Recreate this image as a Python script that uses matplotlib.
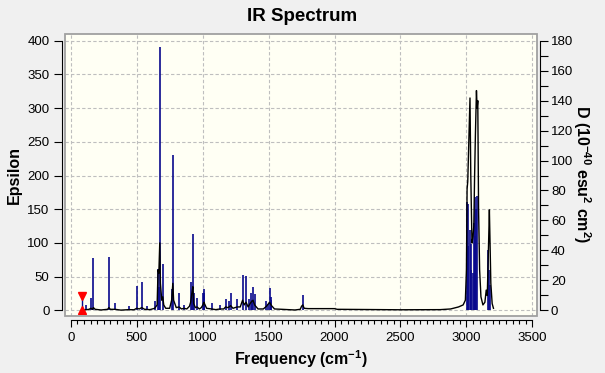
import numpy as np
import matplotlib.pyplot as plt
from matplotlib.patches import Rectangle
from matplotlib.ticker import MultipleLocator

plt.rcParams['font.family'] = ['Liberation Sans', 'DejaVu Sans']
plt.rcParams['mathtext.fontset'] = 'custom'
plt.rcParams['mathtext.rm'] = 'Liberation Sans'
plt.rcParams['mathtext.bf'] = 'Liberation Sans:bold'

# stick spectrum (frequency cm-1, epsilon)
stick_freq = [117, 152, 172, 289, 336, 441, 500, 538, 576, 637, 662, 666, 675, 698,
              768, 774, 821, 859, 909, 918, 926, 932, 958, 1002, 1008, 1014, 1069,
              1131, 1174, 1201, 1212, 1262, 1303, 1329, 1353, 1367, 1375, 1382, 1394,
              1484, 1496, 1507, 1515, 1522, 1759,
              3005, 3010, 3015, 3025, 3032, 3038, 3047, 3056, 3062, 3068, 3075, 3080,
              3167, 3174, 3182]
stick_eps = [8, 19, 78, 79, 11, 7, 36, 42, 7, 14, 62, 35, 390, 69,
             32, 231, 25, 8, 42, 25, 113, 25, 19, 25, 25, 32, 11,
             8, 17, 14, 26, 17, 52, 51, 17, 25, 15, 35, 24,
             14, 9, 33, 20, 16, 23,
             160, 95, 158, 119, 60, 99, 55, 130, 168, 110, 150, 169,
             90, 60, 37]

# broadened spectrum (black line)
curve_freq = [100, 140, 152, 165, 172, 185, 230, 280, 289, 300, 336, 380, 441, 480,
              500, 520, 538, 560, 600, 637, 655, 662, 668, 675, 680, 690, 698, 705,
              720, 750, 765, 774, 780, 800, 821, 840, 859, 880, 900, 909, 918, 926,
              932, 945, 958, 975, 990, 1002, 1010, 1014, 1030, 1069, 1100, 1131, 1160,
              1174, 1190, 1201, 1212, 1230, 1262, 1285, 1303, 1315, 1329, 1345, 1360,
              1367, 1382, 1394, 1420, 1460, 1484, 1500, 1507, 1522, 1545, 1600, 1700,
              1740, 1750, 1759, 1770, 1800, 2000, 2020, 2500, 2800, 2880, 2940, 2975,
              2992, 3000, 3005, 3010, 3018, 3027, 3033, 3042, 3050, 3056, 3062, 3068,
              3076, 3081, 3086, 3092, 3100, 3110, 3125, 3140, 3150, 3158, 3168, 3174,
              3178, 3185, 3195, 3205]
curve_eps = [0.5, 1.5, 3, 1.5, 4, 1.5, 0.5, 1.5, 4, 1.5, 1.5, 0.3, 1, 0.8,
             3, 2, 4, 1.5, 1, 3, 8, 60, 55, 100, 40, 15, 20, 8,
             3, 3, 15, 40, 15, 4, 5, 2, 3, 2, 6, 12, 25, 35,
             10, 4, 5, 2, 4, 8, 12, 10, 3, 2, 1, 2, 2,
             5, 4, 5, 7, 3, 5, 5, 15, 8, 12, 5, 10,
             12, 15, 8, 2, 2, 6, 10, 12, 7, 2, 1.5, 0.5,
             1.5, 6, 8, 3, 2.5, 2.5, 1.5, 0.8, 1, 2, 5, 8,
             15, 60, 180, 191, 250, 315, 200, 100, 110, 125, 200, 260,
             326, 300, 311, 150, 60, 20, 8, 12, 30, 22, 100, 149,
             110, 40, 10, 3]

# red marker pair
marker_freq = [86, 86]
marker_eps = [21, 0]

x_ticks = [0, 500, 1000, 1500, 2000, 2500, 3000, 3500]
eps_ticks = [0, 50, 100, 150, 200, 250, 300, 350, 400]
d_ticks = [0, 20, 40, 60, 80, 100, 120, 140, 160, 180]

eps_lim = (-8, 410.4)
d_scale = 180 / 400

fig = plt.figure(figsize=(6.05, 3.73), dpi=100)
fig.patch.set_facecolor('#f0f0f0')
ax = fig.add_axes([0.1071, 0.1536, 0.7805, 0.7561])
ax.set_facecolor('#fffff4')

ax.vlines(stick_freq, 0, stick_eps, color='#08088c', lw=1.2, zorder=3)
ax.plot(curve_freq, curve_eps, color='black', lw=1.0, zorder=4)
ax.vlines(marker_freq[0], marker_eps[1], marker_eps[0], color='#08088c', lw=1, zorder=5)
ax.plot(marker_freq[0], marker_eps[0], marker='v', color='red', ms=6, zorder=6, clip_on=False)
ax.plot(marker_freq[1], marker_eps[1], marker='^', color='red', ms=6, zorder=6, clip_on=False)

ax.set_xlim(-45, 3535)
ax.set_ylim(*eps_lim)
ax.set_xticks(x_ticks)
ax.set_yticks(eps_ticks)
ax.xaxis.set_minor_locator(MultipleLocator(50))
ax.grid(True, color='#bebebe', ls=(0, (3, 2)), lw=0.8)
ax.set_axisbelow(True)

for s in ['top', 'right']:
    ax.spines[s].set_visible(False)
ax.spines['left'].set_position(('outward', 2))
ax.spines['bottom'].set_position(('outward', 3))
ax.spines['left'].set_bounds(0, 400)
ax.spines['bottom'].set_bounds(0, 3500)
ax.tick_params(axis='x', which='major', length=5, width=0.8, labelsize=9.5, pad=4)
ax.tick_params(axis='x', which='minor', length=3, width=0.8)
ax.tick_params(axis='y', which='major', length=6, width=0.8, labelsize=9.5, pad=3)

ax.add_patch(Rectangle((0, 0), 1, 1, transform=ax.transAxes, fill=False,
                       edgecolor='#a0a0a0', lw=1.3, clip_on=False, zorder=10))

ax2 = ax.twinx()
ax2.set_ylim(eps_lim[0] * d_scale, eps_lim[1] * d_scale)
ax2.set_yticks(d_ticks)
ax2.yaxis.set_minor_locator(MultipleLocator(10))
for s in ['top', 'left', 'bottom']:
    ax2.spines[s].set_visible(False)
ax2.spines['right'].set_position(('outward', 2))
ax2.spines['right'].set_bounds(0, 180)
ax2.tick_params(axis='y', which='major', length=6, width=0.8, labelsize=9.5, pad=2)
ax2.tick_params(axis='y', which='minor', length=6, width=0.8)

fig.text(0.5, 0.955, 'IR Spectrum', ha='center', va='center', fontsize=13.5, fontweight='bold')
ax.set_xlabel(r'Frequency (cm$^{\mathbf{-1}}$)', fontsize=11.5, fontweight='bold', labelpad=3)
ax.set_ylabel('Epsilon', fontsize=11.5, fontweight='bold', labelpad=4)
ax2.set_ylabel(r'D (10$^{\mathbf{-40}}$ esu$^{\mathbf{2}}$ cm$^{\mathbf{2}}$)', fontsize=11.5,
               fontweight='bold', rotation=270, labelpad=14)

fig.savefig('out.png', dpi=100, facecolor=fig.get_facecolor())
